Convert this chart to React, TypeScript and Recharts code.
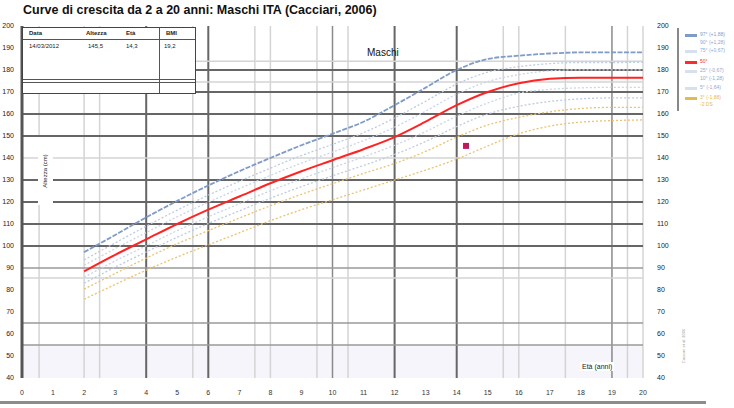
import {
  ComposedChart,
  Line,
  ReferenceArea,
  ReferenceLine,
  Scatter,
  XAxis,
  YAxis,
} from "recharts";

// età (anni) e percentili di altezza (cm)
const ages = [2, 3, 4, 5, 6, 7, 8, 9, 10, 11, 12, 13, 14, 15, 16, 17, 18, 19, 20];
const p97 = [97.2, 105, 113, 120.5, 127.5, 134, 140, 145.8, 151, 156.5, 164, 172, 180, 185, 186.5, 187.5, 188, 188, 188];
const p90 = [93.7, 101.4, 109, 116.3, 123.1, 129.4, 135.4, 141.1, 146.2, 151.5, 158.2, 165.8, 173.6, 179, 181.5, 182.9, 183.4, 183.4, 183.5];
const p75 = [91.2, 98.8, 106.1, 113.3, 119.9, 126.1, 132.1, 137.7, 142.7, 147.9, 154, 161.3, 169, 174.7, 177.9, 179.6, 180.1, 180.1, 180.1];
const p50 = [88.5, 96, 103, 110, 116.5, 122.5, 128.5, 134, 139, 144, 149.5, 156.5, 164, 170, 174, 176, 176.5, 176.5, 176.5];
const p25 = [85.8, 93.2, 100.1, 107, 113.3, 119.2, 125.1, 130.5, 135.6, 140.5, 145.8, 152, 159, 165, 169.5, 171.2, 171.9, 172.1, 172.1];
const p10 = [83.1, 90.4, 97.3, 104, 110.2, 116, 121.7, 127, 131.9, 136.6, 141.6, 147.5, 154.3, 160, 163.5, 165.7, 166.9, 167.3, 167.3];
const p5 = [80.4, 87.5, 94.5, 101, 107, 112.7, 118.3, 123.5, 128.3, 133, 137.5, 143, 149.5, 155, 158.5, 161, 162.5, 163, 163];
const p3 = [75.8, 82.5, 89, 95, 100.5, 106, 111.5, 116.5, 121, 125.5, 130, 134.5, 139.5, 145.5, 151, 154.5, 156.3, 157, 157.3];

const measureAge = [14.3];
const measureHeight = [145.5];

const xTicks = [0, 1, 2, 3, 4, 5, 6, 7, 8, 9, 10, 11, 12, 13, 14, 15, 16, 17, 18, 19, 20];
const yTicks = [40, 50, 60, 70, 80, 90, 100, 110, 120, 130, 140, 150, 160, 170, 180, 190, 200];

const tableHead = ["Data", "Altezza", "Età", "BMI"];
const tableRow = ["14/03/2012", "145,5", "14,3", "19,2"];

const legendItems = [
  { label: "97° (+1,88)", color: "#7f9cc8", text: "#7f9cc8", top: 31 },
  { label: "90° (+1,28)", color: "", text: "#8fa8d0", top: 39 },
  { label: "75° (+0,67)", color: "#d6e0ee", text: "#8fa8d0", top: 47 },
  { label: "50°", color: "#ff2a2a", text: "#ff2a2a", top: 58 },
  { label: "25° (-0,67)", color: "#d6e0ee", text: "#8fa8d0", top: 67 },
  { label: "10° (-1,28)", color: "", text: "#8fa8d0", top: 75 },
  { label: "5° (-1,64)", color: "#d6e0ee", text: "#8fa8d0", top: 84 },
  { label: "3° (-1,88)", color: "#e8b850", text: "#e8b850", top: 94 },
  { label: "-2 DS", color: "", text: "#e8b850", top: 101 },
];

const data = ages.map((age, i) => ({
  age,
  p97: p97[i],
  p90: p90[i],
  p75: p75[i],
  p50: p50[i],
  p25: p25[i],
  p10: p10[i],
  p5: p5[i],
  p3: p3[i],
}));

const measures = measureAge.map((age, i) => ({ age, h: measureHeight[i] }));

// linee di griglia irregolari del foglio originale
const darkX = [4, 6, 12, 14];
const midX = [10, 19];
const lightX = [0.55, 2, 2.5, 5.5, 7.5, 8, 9.5, 10.5, 15.5, 16, 17.5, 19.5, 20];
const darkY = [180, 170, 160, 150, 130, 120, 110, 100];
const midY = [90, 65, 55];
const lightY = [184, 174.5, 140, 85.5];

const font = "'Liberation Sans', Arial, sans-serif";

function Square(props: any) {
  const { cx, cy } = props;
  return <rect x={cx - 3} y={cy - 3} width={6} height={6} fill="#c2185b" />;
}

export default function App() {
  return (
    <div
      style={{
        position: "absolute",
        left: 0,
        top: 0,
        width: 734,
        height: 408,
        background: "#fff",
        fontFamily: font,
        overflow: "hidden",
      }}
    >
      <ComposedChart
        width={734}
        height={408}
        data={data}
        margin={{ top: 26, right: 61, bottom: 10, left: 0 }}
      >
        <XAxis
          dataKey="age"
          type="number"
          domain={[0, 20]}
          ticks={xTicks}
          axisLine={false}
          tickLine={false}
          tickMargin={6}
          height={20}
          tick={{ fontSize: 7, fill: "#333", fontFamily: font }}
        />
        <YAxis
          yAxisId="left"
          type="number"
          domain={[40, 200]}
          ticks={yTicks}
          width={22}
          interval={0}
          tickLine={false}
          axisLine={{ stroke: "#555", strokeWidth: 3 }}
          tick={{ fontSize: 7, fill: "#222", fontFamily: font }}
        />
        <YAxis
          yAxisId="right"
          orientation="right"
          type="number"
          domain={[40, 200]}
          ticks={yTicks}
          width={30}
          interval={0}
          tickLine={false}
          axisLine={false}
          tickMargin={8}
          tick={{ fontSize: 7, fill: "#222", fontFamily: font }}
        />
        <ReferenceArea yAxisId="left" x1={0} x2={20} y1={40} y2={55} fill="#f6f5fb" fillOpacity={1} stroke="none" />
        {lightX.map((v) => (
          <ReferenceLine key={"lx" + v} yAxisId="left" x={v} stroke="#d4d4d4" strokeWidth={1.5} />
        ))}
        {midX.map((v) => (
          <ReferenceLine key={"mx" + v} yAxisId="left" x={v} stroke="#8a8a8a" strokeWidth={1.5} />
        ))}
        {darkX.map((v) => (
          <ReferenceLine key={"dx" + v} yAxisId="left" x={v} stroke="#666" strokeWidth={2} />
        ))}
        {lightY.map((v) => (
          <ReferenceLine key={"ly" + v} yAxisId="left" y={v} stroke="#d4d4d4" strokeWidth={1.5} />
        ))}
        {midY.map((v) => (
          <ReferenceLine key={"my" + v} yAxisId="left" y={v} stroke="#9a9a9a" strokeWidth={1.5} />
        ))}
        {darkY.map((v) => (
          <ReferenceLine key={"dy" + v} yAxisId="left" y={v} stroke="#666" strokeWidth={2} />
        ))}
        <Line yAxisId="left" dataKey="p90" type="monotone" stroke="#bccbe2" strokeWidth={1.3} strokeDasharray="2 2" dot={false} isAnimationActive={false} />
        <Line yAxisId="left" dataKey="p75" type="monotone" stroke="#c8d5e8" strokeWidth={1.3} strokeDasharray="2 2" dot={false} isAnimationActive={false} />
        <Line yAxisId="left" dataKey="p25" type="monotone" stroke="#c8d5e8" strokeWidth={1.3} strokeDasharray="2 2" dot={false} isAnimationActive={false} />
        <Line yAxisId="left" dataKey="p10" type="monotone" stroke="#bccbe2" strokeWidth={1.3} strokeDasharray="2 2" dot={false} isAnimationActive={false} />
        <Line yAxisId="left" dataKey="p5" type="monotone" stroke="#ebc270" strokeWidth={1.3} strokeDasharray="2 2" dot={false} isAnimationActive={false} />
        <Line yAxisId="right" dataKey="p3" type="monotone" stroke="#ebc270" strokeWidth={1.3} strokeDasharray="2 2" dot={false} isAnimationActive={false} />
        <Line yAxisId="left" dataKey="p97" type="monotone" stroke="#7f9cc8" strokeWidth={1.8} strokeDasharray="5 1.5" dot={false} isAnimationActive={false} />
        <Line yAxisId="left" dataKey="p50" type="monotone" stroke="#ff2424" strokeWidth={2} dot={false} isAnimationActive={false} />
        <Scatter yAxisId="left" data={measures} dataKey="h" shape={<Square />} isAnimationActive={false} />
      </ComposedChart>

      {/* titolo */}
      <div style={{ position: "absolute", left: 23, top: 3, fontSize: 12.5, fontWeight: "bold", color: "#111", whiteSpace: "nowrap" }}>
        Curve di crescita da 2 a 20 anni: Maschi ITA (Cacciari, 2006)
      </div>

      {/* tabella misure */}
      <div style={{ position: "absolute", left: 22, top: 27, width: 174, height: 67, background: "#fff", border: "1.5px solid #444", boxSizing: "border-box" }}>
        <div style={{ position: "absolute", left: 0, right: 0, top: 11, borderTop: "1.5px solid #555" }} />
        <div style={{ position: "absolute", left: 0, right: 0, top: 51, borderTop: "1px solid #555" }} />
        <div style={{ position: "absolute", left: 0, right: 0, top: 54, borderTop: "1px solid #555" }} />
        <div style={{ position: "absolute", left: 136, top: 0, bottom: 0, borderLeft: "1.5px solid #555" }} />
        {tableHead.map((h, i) => (
          <div key={h} style={{ position: "absolute", left: [6, 63, 103, 143][i], top: 2, fontSize: 6, fontWeight: "bold", color: "#222" }}>
            {h}
          </div>
        ))}
        {tableRow.map((v, i) => (
          <div key={i} style={{ position: "absolute", left: [6, 65, 103, 141][i], top: 15, fontSize: 6, color: "#222" }}>
            {v}
          </div>
        ))}
      </div>

      <div style={{ position: "absolute", left: 367, top: 47, fontSize: 10, color: "#111" }}>Maschi</div>

      {/* titolo asse y */}
      <div style={{ position: "absolute", left: 38, top: 137, width: 15, height: 68, background: "#fff" }}>
        <div style={{ position: "absolute", left: 7, top: 34, transform: "translate(-50%, -50%) rotate(-90deg)", fontSize: 6, color: "#222", whiteSpace: "nowrap" }}>
          Altezza (cm)
        </div>
      </div>

      <div style={{ position: "absolute", left: 580, top: 362, padding: "1px 2px", background: "#fff", fontSize: 7, color: "#222" }}>
        Età (anni)
      </div>

      <div style={{ position: "absolute", left: 683, top: 346, transform: "translate(-50%, -50%) rotate(-90deg)", fontSize: 4, color: "#999", whiteSpace: "nowrap" }}>
        Cacciari et al. 2006
      </div>

      {/* legenda */}
      <div style={{ position: "absolute", left: 677, top: 28, width: 2, height: 83, background: "#888" }} />
      {legendItems.map((it) => (
        <div key={it.label} style={{ position: "absolute", left: 685, top: it.top }}>
          {it.color && <div style={{ position: "absolute", left: 0, top: 3, width: 12, height: 2.5, background: it.color }} />}
          <div style={{ position: "absolute", left: 15, top: 0, fontSize: 5, color: it.text, whiteSpace: "nowrap" }}>{it.label}</div>
        </div>
      ))}

      <div style={{ position: "absolute", left: 0, top: 401, width: 706, height: 3, background: "#8c8c8c" }} />
    </div>
  );
}
